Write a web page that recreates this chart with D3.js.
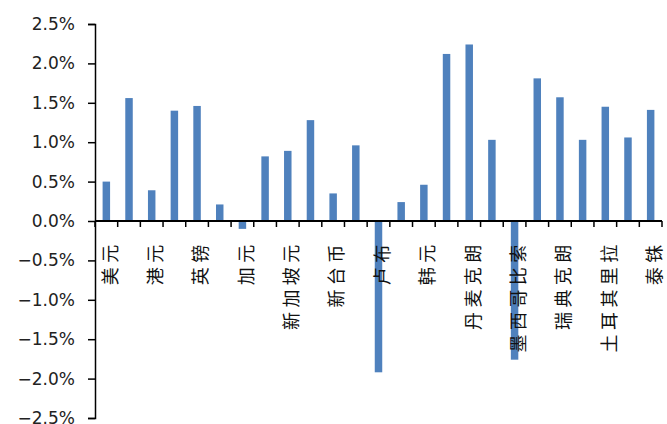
<!DOCTYPE html>
<html>
<head>
<meta charset="utf-8">
<script src="https://cdn.jsdelivr.net/npm/d3@7"></script>
<style>
  html, body { margin: 0; padding: 0; background: #fff; }
  svg { display: block; }
</style>
</head>
<body>
<svg id="chart" width="667" height="424"></svg>
<script>
const categories = ["美元","欧元","港元","日元","英镑","澳元","加元","新西兰元","新加坡元","瑞士法郎",
  "新台币","林吉特","卢布","南非兰特","韩元","迪拉姆","丹麦克朗","沙特里亚尔","墨西哥比索","匈牙利福林",
  "瑞典克朗","波兰兹罗提","土耳其里拉","挪威克朗","泰铢"];
const values = [0.50,1.56,0.39,1.40,1.46,0.21,-0.10,0.82,0.89,1.28,
  0.35,0.96,-1.92,0.24,0.46,2.12,2.24,1.03,-1.76,1.81,
  1.57,1.03,1.45,1.06,1.41];
const yTicks = [-2.5,-2.0,-1.5,-1.0,-0.5,0,0.5,1.0,1.5,2.0,2.5];
const shownLabels = categories.filter((d,i) => i % 2 === 0);

const svg = d3.select("#chart");
const margin = {left: 95, right: 5, top: 24, bottom: 6};
const W = 667, H = 424;

const x = d3.scaleBand().domain(categories).range([margin.left, 662]).paddingInner(0).paddingOuter(0);
const y = d3.scaleLinear().domain([-2.5, 2.5]).range([418, 24]);
const barW = x.step() * 0.33;

// bars
svg.append("g").selectAll("rect").data(values).join("rect")
  .attr("x", (d,i) => x(categories[i]) + x.step()/2 - barW/2)
  .attr("y", d => y(Math.max(0,d)))
  .attr("width", barW)
  .attr("height", d => Math.abs(y(d) - y(0)))
  .attr("fill", "#4F81BD");

// y axis
const fmt = d3.format(".1%");
const yAxis = d3.axisLeft(y).tickValues(yTicks).tickSize(7).tickPadding(13)
  .tickFormat(d => fmt(d/100));
const gy = svg.append("g").attr("transform", `translate(${margin.left},0)`).call(yAxis);
gy.select(".domain").attr("stroke", "#000").attr("stroke-width", 1.5);
gy.selectAll(".tick line").attr("stroke", "#000").attr("stroke-width", 1.5);
gy.selectAll(".tick text").attr("font-family", "'DejaVu Sans', sans-serif")
  .attr("font-size", 17).attr("fill", "#222");

// x axis line at zero with ticks between categories
const gx = svg.append("g");
gx.append("line").attr("x1", margin.left).attr("x2", x.range()[1])
  .attr("y1", y(0)).attr("y2", y(0)).attr("stroke", "#000").attr("stroke-width", 2);
const boundaries = categories.map(c => x(c)).concat([x.range()[1]]);
gx.selectAll("line.t").data(boundaries).join("line").attr("class","t")
  .attr("x1", d => d).attr("x2", d => d)
  .attr("y1", y(0)).attr("y2", y(0) + 6)
  .attr("stroke", "#000").attr("stroke-width", 1.5);

// category labels (every other)
svg.append("g").selectAll("text").data(shownLabels).join("text")
  .attr("transform", d => `translate(${x(d) + x.step()/2 + 4},${236 + 4.4}) rotate(-90)`)
  .attr("text-anchor", "end")
  .attr("dy", "0.35em")
  .attr("font-family", "'Noto Sans CJK SC', sans-serif")
  .attr("font-size", 18)
  .attr("letter-spacing", 4.4)
  .attr("fill", "#111")
  .text(d => d);
</script>
</body>
</html>
